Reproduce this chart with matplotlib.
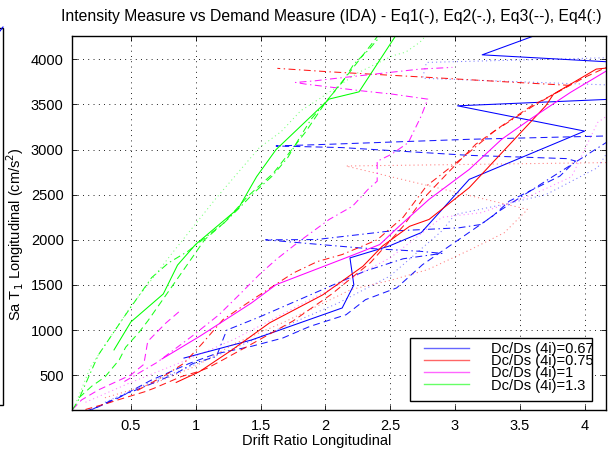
import matplotlib
matplotlib.use("Agg")
import matplotlib.pyplot as plt
from matplotlib.patches import Rectangle
from matplotlib.lines import Line2D

plt.rcParams['font.family'] = ['Liberation Sans', 'DejaVu Sans']
plt.rcParams['lines.scale_dashes'] = False

# --- IDA curves: drift ratio (x) vs Sa (y), one per ratio and record ---
# Dc/Ds = 0.67 (blue)
b_eq1_x = [0.91, 1.43, 2.13, 2.22, 2.19, 2.49, 2.74, 3.11, 4.00, 3.02, 4.40, 4.40, 3.21, 3.80]
b_eq1_y = [690, 890, 1245, 1500, 1800, 1930, 2080, 2670, 3205, 3485, 3570, 3955, 4050, 4360]
b_eq2_x = [0.20, 0.40, 0.65, 0.85, 0.98, 1.16, 1.22, 1.24, 1.50, 1.90, 2.30, 2.60, 2.90, 2.73, 2.26,
           1.54, 1.93, 2.49, 3.03, 3.20, 3.34, 3.60, 3.95, 4.30]
b_eq2_y = [120, 255, 400, 520, 630, 707, 930, 1000, 1150, 1400, 1650, 1790, 1850, 1873, 1911,
           2000, 2003, 2096, 2133, 2170, 2318, 2560, 2880, 3200]
b_eq3_x = [0.15, 0.25, 0.40, 0.65, 0.95, 1.15, 1.43, 1.67, 1.88, 2.16, 2.31, 2.55, 2.75, 3.29, 3.42,
           3.63, 3.81, 3.93, 3.86, 3.11, 2.13, 1.62, 2.03, 3.11, 4.17, 4.60]
b_eq3_y = [100, 150, 245, 440, 630, 735, 820, 911, 1040, 1170, 1337, 1467, 1725, 2262, 2430,
           2578, 2707, 2873, 2900, 2936, 3022, 3040, 3059, 3114, 3151, 3200]
b_eq4_x = [0.30, 0.70, 1.00, 1.30, 1.70, 2.10, 2.50, 2.90, 3.00, 3.40, 3.70, 4.10, 4.50, 2.75, 2.78, 4.50]
b_eq4_y = [200, 450, 620, 800, 1050, 1300, 1600, 2100, 2280, 2400, 2500, 2800, 3700, 3790, 3966, 4030]

# Dc/Ds = 0.75 (red)
r_eq1_x = [0.85, 1.03, 1.28, 1.57, 1.98, 2.29, 2.44, 2.65, 2.80, 3.11, 3.70, 3.76, 4.09, 4.35]
r_eq1_y = [420, 540, 780, 1080, 1390, 1707, 1930, 2150, 2226, 2578, 3485, 3614, 3892, 3930]
r_eq2_x = [0.55, 0.77, 0.91, 1.05, 1.21, 1.43, 1.75, 1.94, 2.13, 2.40, 2.60, 2.78, 3.06, 3.30, 3.60,
           3.88, 3.40, 2.80, 2.03, 1.63]
r_eq2_y = [330, 503, 633, 850, 1115, 1330, 1630, 1760, 1837, 2000, 2250, 2596, 2911, 3200, 3480,
           3712, 3750, 3800, 3862, 3900]
r_eq3_x = [0.15, 0.32, 0.40, 0.61, 0.68, 0.89, 1.02, 1.09, 1.21, 1.45, 1.75, 2.05, 2.35, 2.60, 2.75,
           2.95, 3.16, 3.36, 3.59, 3.81, 4.00, 4.30]
r_eq3_y = [120, 189, 226, 318, 356, 485, 540, 578, 670, 860, 1100, 1400, 1750, 2150, 2448,
           2750, 3059, 3262, 3484, 3651, 3800, 4000]
r_eq4_x = [0.30, 0.70, 1.00, 1.30, 1.70, 2.20, 2.50, 2.79, 3.12, 3.38, 3.56, 2.16, 4.40]
r_eq4_y = [250, 420, 600, 850, 1100, 1450, 1550, 1670, 1892, 2078, 2337, 2818, 2860]

# Dc/Ds = 1 (magenta)
m_eq1_x = [0.74, 1.03, 1.43, 1.62, 2.19, 2.42, 2.57, 2.80, 3.11, 3.36, 3.58, 3.89, 4.17, 4.35]
m_eq1_y = [680, 930, 1300, 1503, 1818, 1948, 2151, 2448, 2780, 3114, 3336, 3633, 3873, 4000]
m_eq2_x = [0.45, 0.70, 0.97, 1.18, 1.35, 1.49, 1.62, 1.80, 2.03, 2.21, 2.33, 2.40, 2.40, 2.51, 2.64,
           2.74, 2.79, 2.52, 2.28, 1.85, 1.77, 1.92, 2.03, 2.73, 2.98]
m_eq2_y = [430, 640, 930, 1170, 1411, 1614, 1781, 1984, 2226, 2373, 2560, 2650, 2870, 2948, 3077,
           3373, 3559, 3614, 3651, 3725, 3744, 3762, 3781, 3892, 3911]
m_eq3_x = [0.05, 0.12, 0.25, 0.50, 0.60, 0.63, 0.77, 0.89]
m_eq3_y = [120, 226, 337, 503, 620, 874, 1078, 1226]
m_eq4_x = [0.15, 0.50, 0.90, 1.30, 1.70, 2.10, 2.50, 2.90, 3.20, 3.60, 3.90, 4.10, 4.30]
m_eq4_y = [200, 420, 650, 900, 1200, 1500, 1800, 2250, 2300, 2500, 2700, 3300, 3500]

# Dc/Ds = 1.3 (green)
g_eq1_x = [0.37, 0.50, 0.75, 0.86, 1.00, 1.33, 1.47, 1.62, 2.03, 2.26, 2.56]
g_eq1_y = [780, 1090, 1400, 1720, 1950, 2350, 2700, 3000, 3560, 3640, 4300]
g_eq2_x = [0.05, 0.09, 0.25, 0.45, 0.66, 0.79, 0.94, 1.22, 1.34, 1.45, 1.59, 1.71, 1.81, 1.89, 2.01,
           2.13, 2.22, 2.34, 2.45]
g_eq2_y = [120, 207, 726, 1151, 1581, 1744, 1873, 2189, 2358, 2522, 2706, 2911, 3151, 3336, 3540,
           3744, 3947, 4114, 4300]
g_eq3_x = [0.10, 0.20, 0.30, 0.41, 0.46, 0.56, 0.63, 0.85, 1.07, 1.22, 1.40, 1.60, 1.85, 2.00, 2.20, 2.40]
g_eq3_y = [250, 380, 480, 670, 810, 970, 1100, 1550, 2003, 2190, 2480, 2740, 3200, 3520, 3880, 4250]
g_eq4_x = [0.07, 0.19, 0.50, 0.81, 1.15, 1.49, 1.66, 1.81, 1.97, 2.25, 2.52, 2.62, 2.73, 2.80]
g_eq4_y = [170, 596, 1262, 1837, 2448, 3020, 3200, 3430, 3577, 3850, 4040, 4080, 4190, 4300]

ratios = ["0.67", "0.75", "1", "1.3"]
colors = ["#0000ff", "#ff0000", "#ff00ff", "#00ff00"]
curves = [
    [(b_eq1_x, b_eq1_y), (b_eq2_x, b_eq2_y), (b_eq3_x, b_eq3_y), (b_eq4_x, b_eq4_y)],
    [(r_eq1_x, r_eq1_y), (r_eq2_x, r_eq2_y), (r_eq3_x, r_eq3_y), (r_eq4_x, r_eq4_y)],
    [(m_eq1_x, m_eq1_y), (m_eq2_x, m_eq2_y), (m_eq3_x, m_eq3_y), (m_eq4_x, m_eq4_y)],
    [(g_eq1_x, g_eq1_y), (g_eq2_x, g_eq2_y), (g_eq3_x, g_eq3_y), (g_eq4_x, g_eq4_y)],
]
# Eq1(-), Eq2(-.), Eq3(--), Eq4(:)
styles = ["-", (0, (5, 2.5, 1, 2.5)), (0, (5, 3)), (0, (0.8, 2.2))]
alphas = [1.0, 0.9, 0.9, 0.5]

fig = plt.figure(figsize=(6.08, 4.53), dpi=100)
ax = fig.add_axes([72 / 608, 1 - 410.3 / 453, 534 / 608, 374.6 / 453])

for col, eqs in zip(colors, curves):
    for (x, y), ls, a in zip(eqs, styles, alphas):
        ax.plot(x, y, color=col, linestyle=ls, linewidth=0.75, alpha=a)

ax.set_xlim(0.046, 4.165)
ax.set_ylim(111, 4262)
ax.set_xticks([0.5, 1, 1.5, 2, 2.5, 3, 3.5, 4])
ax.set_xticklabels(["0.5", "1", "1.5", "2", "2.5", "3", "3.5", "4"])
ax.set_yticks([500, 1000, 1500, 2000, 2500, 3000, 3500, 4000])
ax.grid(True, color="black", linestyle=(0, (0.6, 3.2)), linewidth=0.7)
ax.tick_params(direction="in", top=True, right=True, length=3.5, width=0.6,
               labelsize=10.5, pad=6)
for s in ax.spines.values():
    s.set_linewidth(1.0)

ax.set_xlabel("Drift Ratio Longitudinal", fontsize=10.5)
ax.xaxis.set_label_coords(0.459, -0.062)
ax.set_ylabel("Sa T$_1$ Longitudinal (cm/s$^2$)", fontsize=10.5)
ax.yaxis.set_label_coords(-0.086, 0.47)

fig.text(331 / 608, 1 - 17 / 453,
         "Intensity Measure vs Demand Measure (IDA) - Eq1(-), Eq2(-.), Eq3(--), Eq4(:)",
         ha="center", va="center", fontsize=11.3)

# legend with a MATLAB-style box that is narrower than its text
handles = [Line2D([], [], color=c, linewidth=1.0, alpha=0.6) for c in colors]
labels = ["Dc/Ds (4i)=" + r for r in ratios]
leg = ax.legend(handles, labels, loc="lower left", bbox_to_anchor=(0.64, 0.02),
                frameon=False, fontsize=10.5, handlelength=3.1, handletextpad=1.5,
                labelspacing=-0.12, borderpad=0.2)
ax.add_patch(Rectangle((338 / 534, (410.3 - 401) / 374.6), 182 / 534, 63 / 374.6,
                       transform=ax.transAxes, facecolor="white", edgecolor="black",
                       linewidth=1.0, zorder=4))
leg.set_zorder(5)

# edge of the neighbouring panel on the left
fig.add_artist(Rectangle((-20 / 608, 1 - 405 / 453), 23 / 608, 377 / 453,
                         transform=fig.transFigure, facecolor="none",
                         edgecolor="black", linewidth=1.0))
fig.add_artist(Line2D([0, 3 / 608], [1 - 31 / 453, 1 - 27 / 453],
                      transform=fig.transFigure, color="blue", linewidth=0.8))

fig.savefig("out.png", dpi=100)
